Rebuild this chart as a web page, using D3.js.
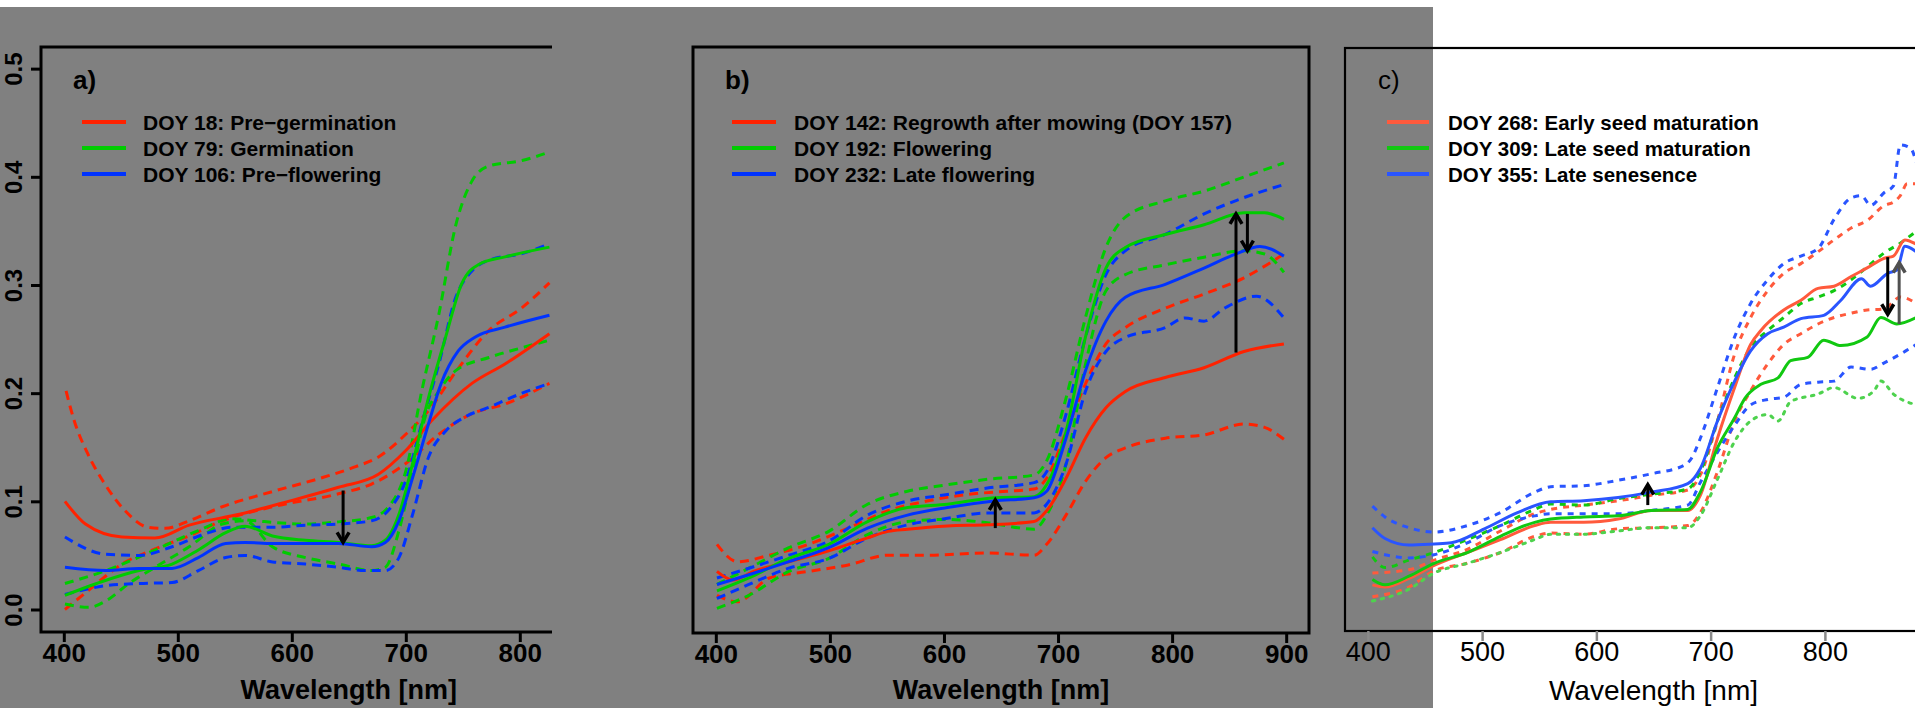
<!DOCTYPE html>
<html>
<head>
<meta charset="utf-8">
<script src="https://cdn.jsdelivr.net/npm/d3@7"></script>
<style>
  html, body { margin: 0; padding: 0; background: #fff; }
  svg { display: block; }
  text { font-family: "Liberation Sans", Arial, Helvetica, sans-serif; fill: #000; }
</style>
</head>
<body>
<svg id="chart" width="1915" height="708"></svg>
<script>
// ---- data: [wavelength nm, reflectance] ----
// panel a)
const aRedMean = [[401,0.100],[419,0.079],[451,0.067],[480,0.066],[510,0.078],[554,0.088],[597,0.100],[641,0.113],[676,0.125],[700,0.147],[723,0.175],[758,0.209],[787,0.227],[826,0.255]];
const aRedHi = [[402,0.202],[409,0.175],[421,0.144],[436,0.116],[454,0.091],[474,0.076],[489,0.075],[510,0.082],[539,0.095],[583,0.109],[627,0.122],[656,0.132],[676,0.141],[700,0.162],[720,0.184],[744,0.220],[773,0.258],[802,0.279],[826,0.302]];
const aRedLo = [[401,0.000],[422,0.018],[451,0.042],[480,0.056],[510,0.068],[539,0.082],[583,0.095],[641,0.107],[670,0.116],[700,0.135],[729,0.162],[758,0.181],[787,0.190],[826,0.209]];
const aGreenMean = [[401,0.013],[437,0.027],[466,0.036],[495,0.042],[518,0.055],[542,0.071],[559,0.077],[583,0.068],[612,0.064],[641,0.062],[670,0.059],[682,0.064],[694,0.088],[706,0.135],[720,0.196],[735,0.252],[749,0.301],[764,0.319],[787,0.326],[826,0.335]];
const aGreenHi = [[401,0.024],[437,0.036],[480,0.055],[518,0.073],[548,0.084],[568,0.082],[612,0.079],[641,0.081],[670,0.085],[685,0.095],[700,0.128],[714,0.202],[729,0.273],[744,0.356],[758,0.396],[773,0.410],[802,0.415],[826,0.423]];
const aGreenLo = [[401,0.005],[422,0.002],[437,0.008],[457,0.024],[480,0.039],[510,0.058],[539,0.079],[559,0.082],[583,0.058],[612,0.048],[641,0.042],[670,0.036],[682,0.039],[694,0.073],[706,0.128],[717,0.178],[729,0.202],[744,0.221],[773,0.233],[802,0.242],[826,0.249]];
const aBlueMean = [[401,0.039],[437,0.036],[466,0.038],[495,0.038],[518,0.048],[542,0.061],[559,0.062],[583,0.061],[641,0.061],[670,0.058],[682,0.062],[694,0.082],[706,0.122],[720,0.172],[731,0.209],[746,0.239],[761,0.252],[787,0.261],[826,0.272]];
const aBlueHi = [[401,0.067],[437,0.051],[466,0.050],[495,0.058],[524,0.070],[548,0.076],[583,0.076],[612,0.078],[641,0.079],[670,0.082],[685,0.092],[700,0.119],[714,0.172],[729,0.227],[744,0.289],[758,0.313],[773,0.323],[802,0.329],[826,0.338]];
const aBlueLo = [[401,0.014],[437,0.022],[466,0.024],[495,0.025],[518,0.036],[542,0.048],[559,0.050],[583,0.044],[612,0.042],[641,0.039],[664,0.036],[682,0.036],[694,0.048],[706,0.088],[720,0.141],[735,0.165],[752,0.178],[773,0.187],[802,0.200],[826,0.209]];
const aLegend = ["DOY 18: Pre\u2212germination", "DOY 79: Germination", "DOY 106: Pre\u2212flowering"];
const aArrows = [[645, 0.110, 0.062]];   // wavelength, from, to

// panel b)
const bRedMean = [[401,0.036],[415,0.028],[433,0.036],[464,0.045],[499,0.055],[516,0.061],[533,0.067],[551,0.073],[568,0.075],[603,0.078],[638,0.079],[679,0.082],[690,0.092],[707,0.122],[724,0.159],[742,0.187],[759,0.202],[794,0.215],[828,0.224],[863,0.239],[898,0.246]];
const bRedHi = [[401,0.061],[419,0.045],[447,0.051],[481,0.061],[516,0.076],[551,0.092],[585,0.101],[620,0.107],[655,0.110],[679,0.112],[690,0.122],[707,0.165],[724,0.209],[742,0.246],[759,0.261],[794,0.279],[828,0.292],[863,0.307],[898,0.329]];
const bRedLo = [[401,0.014],[419,0.008],[447,0.030],[481,0.036],[516,0.042],[551,0.051],[585,0.051],[638,0.053],[679,0.051],[690,0.061],[707,0.088],[724,0.119],[742,0.141],[759,0.150],[794,0.159],[828,0.162],[863,0.172],[881,0.169],[898,0.158]];
const bGreenMean = [[401,0.018],[429,0.030],[464,0.048],[499,0.061],[533,0.082],[568,0.095],[603,0.098],[644,0.104],[679,0.105],[690,0.116],[707,0.165],[724,0.252],[742,0.316],[759,0.335],[794,0.347],[828,0.356],[863,0.367],[881,0.367],[898,0.361]];
const bGreenHi = [[401,0.024],[429,0.039],[464,0.058],[499,0.073],[533,0.098],[568,0.110],[603,0.116],[638,0.121],[679,0.125],[690,0.138],[707,0.196],[724,0.270],[742,0.335],[759,0.363],[794,0.378],[828,0.387],[863,0.400],[898,0.413]];
const bGreenLo = [[401,0.002],[429,0.014],[464,0.036],[499,0.048],[533,0.070],[568,0.082],[603,0.084],[638,0.081],[679,0.075],[690,0.088],[707,0.135],[724,0.227],[742,0.295],[759,0.310],[794,0.319],[828,0.326],[863,0.332],[881,0.329],[898,0.312]];
const bBlueMean = [[401,0.024],[429,0.033],[464,0.045],[499,0.058],[533,0.076],[568,0.088],[603,0.095],[644,0.101],[679,0.104],[690,0.110],[707,0.159],[724,0.221],[742,0.267],[759,0.289],[794,0.301],[828,0.316],[856,0.329],[877,0.336],[898,0.327]];
const bBlueHi = [[401,0.030],[429,0.039],[464,0.051],[499,0.064],[533,0.088],[568,0.101],[603,0.107],[638,0.113],[679,0.118],[690,0.128],[707,0.181],[724,0.252],[742,0.310],[759,0.332],[794,0.347],[828,0.366],[863,0.381],[898,0.393]];
const bBlueLo = [[401,0.011],[429,0.024],[464,0.039],[499,0.048],[533,0.067],[568,0.079],[603,0.085],[638,0.090],[679,0.090],[690,0.098],[707,0.135],[724,0.202],[742,0.239],[759,0.252],[794,0.261],[811,0.270],[828,0.267],[846,0.279],[874,0.290],[898,0.270]];
const bLegend = ["DOY 142: Regrowth after mowing (DOY 157)", "DOY 192: Flowering", "DOY 232: Late flowering"];
const bArrows = [[645, 0.076, 0.102], [856, 0.238, 0.366], [866, 0.366, 0.332]];

// panel c)
const cRedMean = [[404,0.022],[415,0.020],[436,0.028],[458,0.040],[487,0.052],[516,0.064],[546,0.077],[560,0.080],[589,0.080],[619,0.083],[648,0.091],[680,0.091],[691,0.105],[706,0.158],[721,0.205],[735,0.245],[744,0.258],[764,0.277],[779,0.286],[794,0.297],[808,0.299],[823,0.308],[837,0.316],[852,0.325],[860,0.327],[870,0.342],[880,0.338]];
const cRedHi = [[404,0.033],[436,0.036],[458,0.045],[487,0.055],[516,0.072],[546,0.088],[560,0.092],[589,0.096],[619,0.100],[648,0.105],[680,0.110],[691,0.124],[706,0.174],[721,0.236],[735,0.270],[750,0.295],[764,0.311],[779,0.320],[794,0.331],[808,0.342],[823,0.353],[837,0.360],[852,0.374],[860,0.377],[866,0.383],[872,0.394],[880,0.394]];
const cRedLo = [[404,0.011],[436,0.020],[458,0.035],[487,0.042],[516,0.052],[546,0.067],[560,0.070],[589,0.069],[619,0.074],[648,0.075],[680,0.077],[691,0.089],[706,0.127],[721,0.174],[735,0.202],[750,0.227],[764,0.245],[779,0.255],[794,0.264],[808,0.270],[823,0.274],[837,0.277],[852,0.278],[866,0.289],[880,0.283]];
const cGreenMean = [[404,0.027],[415,0.022],[436,0.030],[458,0.042],[487,0.052],[516,0.067],[546,0.080],[560,0.083],[589,0.085],[619,0.086],[648,0.091],[680,0.092],[691,0.108],[706,0.149],[721,0.177],[730,0.195],[744,0.208],[759,0.214],[770,0.230],[785,0.233],[799,0.249],[814,0.244],[837,0.252],[849,0.270],[863,0.264],[880,0.270]];
const cGreenHi = [[404,0.048],[415,0.038],[436,0.045],[458,0.052],[487,0.064],[516,0.077],[546,0.092],[560,0.097],[589,0.096],[619,0.102],[648,0.106],[680,0.111],[691,0.127],[706,0.174],[721,0.214],[735,0.242],[750,0.258],[764,0.270],[779,0.283],[794,0.289],[808,0.295],[823,0.305],[837,0.317],[852,0.330],[866,0.339],[880,0.350]];
const cGreenLo = [[404,0.007],[436,0.018],[458,0.033],[487,0.042],[516,0.052],[546,0.064],[560,0.069],[589,0.069],[619,0.072],[648,0.075],[680,0.075],[691,0.086],[706,0.120],[721,0.155],[735,0.174],[750,0.180],[759,0.174],[770,0.192],[794,0.199],[808,0.205],[829,0.195],[843,0.202],[849,0.211],[860,0.199],[880,0.189]];
const cBlueMean = [[404,0.075],[415,0.065],[436,0.059],[458,0.060],[473,0.061],[502,0.074],[531,0.089],[560,0.099],[589,0.100],[619,0.103],[648,0.108],[680,0.116],[691,0.130],[706,0.174],[721,0.211],[735,0.239],[750,0.255],[764,0.261],[779,0.269],[799,0.272],[814,0.286],[832,0.306],[840,0.299],[855,0.311],[863,0.314],[870,0.336],[880,0.331]];
const cBlueHi = [[404,0.095],[415,0.085],[436,0.075],[458,0.071],[487,0.077],[516,0.089],[546,0.108],[560,0.113],[589,0.114],[619,0.119],[648,0.125],[677,0.133],[683,0.139],[691,0.158],[706,0.205],[721,0.252],[735,0.283],[750,0.305],[764,0.320],[779,0.327],[794,0.334],[808,0.361],[823,0.381],[832,0.383],[840,0.374],[852,0.386],[860,0.392],[866,0.430],[875,0.427],[880,0.414]];
const cBlueLo = [[404,0.053],[415,0.050],[436,0.047],[458,0.050],[487,0.061],[516,0.077],[546,0.086],[560,0.088],[589,0.088],[619,0.088],[648,0.091],[680,0.096],[691,0.117],[706,0.145],[721,0.170],[735,0.189],[750,0.194],[764,0.196],[779,0.208],[794,0.210],[808,0.211],[823,0.224],[840,0.222],[852,0.228],[866,0.236],[880,0.245]];
const cLegend = ["DOY 268: Early seed maturation", "DOY 309: Late seed maturation", "DOY 355: Late senesence"];
const cArrows = [[645, 0.096, 0.115], [855, 0.326, 0.273], [865, 0.264, 0.321]];

const xTicks = [400, 500, 600, 700, 800, 900];
const yTicks = [0.0, 0.1, 0.2, 0.3, 0.4, 0.5];
const xTitle = "Wavelength [nm]";

// ---- layout ----
const W = 1915, H = 708;
const svg = d3.select("#chart");
const GRAY = "#808080";

svg.append("rect").attr("x", 0).attr("y", 0).attr("width", W).attr("height", H).attr("fill", "#fff");
svg.append("rect").attr("x", 0).attr("y", 7).attr("width", 1433).attr("height", H - 7).attr("fill", GRAY);

const panels = [
  { key: "a", label: "a)", left: 41, right: 656.6, top: 47, bottom: 632, clipRight: 552, bold: true, yAxis: true,
    colors: ["#ff2200", "#00cc00", "#0033ff"], dotColor: "#00cc00", dash: "9,6", dot: "9,6", lw: 3, frame: 3, tickColor: "#000",
    series: [aRedMean, aRedHi, aRedLo, aGreenMean, aGreenHi, aGreenLo, aBlueMean, aBlueHi, aBlueLo],
    legend: aLegend, arrows: aArrows, arrowColors: ["#000"],
    legendKey: [82, 126], legendText: 143, labelX: 73, fontLegend: 21 },
  { key: "b", label: "b)", left: 693, right: 1309, top: 47, bottom: 633, clipRight: null, bold: true, yAxis: false,
    colors: ["#ff2200", "#00cc00", "#0033ff"], dotColor: "#00cc00", dash: "9,6", dot: "9,6", lw: 3, frame: 3, tickColor: "#000",
    series: [bRedMean, bRedHi, bRedLo, bGreenMean, bGreenHi, bGreenLo, bBlueMean, bBlueHi, bBlueLo],
    legend: bLegend, arrows: bArrows, arrowColors: ["#000", "#000", "#000"],
    legendKey: [732, 776], legendText: 794, labelX: 725, fontLegend: 21 },
  { key: "c", label: "c)", left: 1345, right: 1962, top: 48, bottom: 631, clipRight: null, bold: false, yAxis: false,
    colors: ["#ff5a3c", "#11c811", "#2a55ff"], dotColor: "#4ed24e", dash: "6,6", dot: "2.5,6.5", lw: 3, frame: 2.2, tickColor: "#8a8a8a",
    series: [cRedMean, cRedHi, cRedLo, cGreenMean, cGreenHi, cGreenLo, cBlueMean, cBlueHi, cBlueLo],
    legend: cLegend, arrows: cArrows, arrowColors: ["#000", "#000", "#505050"],
    legendKey: [1387, 1429], legendText: 1448, labelX: 1378, fontLegend: 20.5 }
];

panels.forEach(p => {
  const g = svg.append("g");
  if (p.clipRight) {
    svg.append("clipPath").attr("id", "clip-" + p.key)
      .append("rect").attr("x", 0).attr("y", 0).attr("width", p.clipRight).attr("height", H);
    g.attr("clip-path", `url(#clip-${p.key})`);
  }
  const x = d3.scaleLinear().domain([380, 920]).range([p.left, p.right]);
  const y = d3.scaleLinear().domain([-0.0208, 0.52]).range([p.bottom, p.top]);
  const weight = p.bold ? "bold" : "normal";

  // frame
  g.append("rect")
    .attr("x", p.left).attr("y", p.top)
    .attr("width", p.right - p.left).attr("height", p.bottom - p.top)
    .attr("fill", "none").attr("stroke", "#000").attr("stroke-width", p.frame);

  // x axis: only ticks that fall inside the picture
  const visTicks = xTicks.filter(t => x(t) < W - 20);
  const xa = g.append("g").attr("transform", `translate(0,${p.bottom})`)
    .call(d3.axisBottom(x).tickValues(visTicks).tickFormat(d3.format("d")).tickSize(10).tickSizeOuter(0));
  xa.select(".domain").remove();
  xa.selectAll("line").attr("stroke", p.tickColor).attr("stroke-width", p.bold ? 3 : 2.5);
  xa.selectAll("text")
    .attr("y", 21).attr("dy", null).attr("dominant-baseline", "central")
    .style("font-size", p.bold ? "26px" : "27px").style("font-weight", weight)
    .style("font-family", '"Liberation Sans", Arial, sans-serif').attr("fill", "#000");

  g.append("text")
    .attr("x", (p.left + p.right) / 2).attr("y", 690)
    .attr("text-anchor", "middle").attr("dominant-baseline", "central")
    .style("font-size", p.bold ? "27px" : "28px").style("font-weight", weight)
    .text(xTitle);

  // y axis (only on the first panel)
  if (p.yAxis) {
    const ya = g.append("g").attr("transform", `translate(${p.left},0)`)
      .call(d3.axisLeft(y).tickValues(yTicks).tickFormat(d3.format(".1f")).tickSize(10).tickSizeOuter(0));
    ya.select(".domain").remove();
    ya.selectAll("line").attr("stroke", "#000").attr("stroke-width", 3);
    ya.selectAll("text")
      .attr("x", 0).attr("y", 0).attr("dy", null)
      .attr("text-anchor", "middle").attr("dominant-baseline", "central")
      .attr("transform", "translate(-28,0) rotate(-90)")
      .style("font-size", "24px").style("font-weight", "bold")
      .style("font-family", '"Liberation Sans", Arial, sans-serif').attr("fill", "#000");
  }

  // curves: dashed bounds first, then means
  const line = d3.line().x(d => x(d[0])).y(d => y(d[1])).curve(d3.curveMonotoneX);
  const order = [1, 2, 4, 5, 7, 8, 0, 3, 6];
  order.forEach(i => {
    const col = Math.floor(i / 3);
    const kind = i % 3; // 0 mean, 1 upper, 2 lower
    let stroke = p.colors[col];
    let dash = null;
    if (kind === 1) dash = p.dash;
    if (kind === 2) dash = (col === 1) ? p.dot : p.dash;
    if (kind === 2 && col === 1 && !p.bold) stroke = p.dotColor;
    g.append("path")
      .datum(p.series[i])
      .attr("d", line)
      .attr("fill", "none")
      .attr("stroke", stroke)
      .attr("stroke-width", p.lw)
      .attr("stroke-dasharray", dash)
      .attr("stroke-linecap", (kind === 2 && col === 1 && !p.bold) ? "round" : "butt")
      .attr("stroke-linejoin", "round");
  });

  // arrows
  p.arrows.forEach((a, k) => {
    const ax = x(a[0]), y0 = y(a[1]), y1 = y(a[2]);
    const dir = y1 > y0 ? 1 : -1;
    const col = p.arrowColors[k] || "#000";
    g.append("line").attr("x1", ax).attr("x2", ax).attr("y1", y0).attr("y2", y1)
      .attr("stroke", col).attr("stroke-width", 3);
    g.append("path")
      .attr("d", `M${ax - 6},${y1 - dir * 10}L${ax},${y1}L${ax + 6},${y1 - dir * 10}`)
      .attr("fill", "none").attr("stroke", col).attr("stroke-width", 3.5);
  });

  // panel label
  g.append("text").attr("x", p.labelX).attr("y", 80)
    .attr("dominant-baseline", "central")
    .style("font-size", "26px").style("font-weight", weight)
    .text(p.label);

  // legend
  const rows = [122, 148, 174];
  p.legend.forEach((t, k) => {
    g.append("line")
      .attr("x1", p.legendKey[0]).attr("x2", p.legendKey[1])
      .attr("y1", rows[k]).attr("y2", rows[k])
      .attr("stroke", p.colors[k]).attr("stroke-width", 4);
    g.append("text")
      .attr("x", p.legendText).attr("y", rows[k])
      .attr("dominant-baseline", "central")
      .style("font-size", p.fontLegend + "px").style("font-weight", "bold")
      .text(t);
  });
});
</script>
</body>
</html>
